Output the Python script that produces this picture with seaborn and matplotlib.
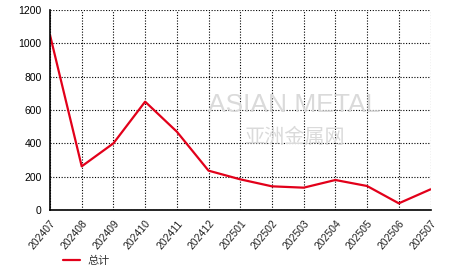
import matplotlib
matplotlib.use("Agg")
import matplotlib.pyplot as plt
import seaborn as sns
import pandas as pd

months = ["202407", "202408", "202409", "202410", "202411", "202412", "202501",
          "202502", "202503", "202504", "202505", "202506", "202507"]
values = [1050, 262, 400, 650, 470, 236, 184, 142, 134, 180, 144, 40, 124]
series_name = "总计"

sns.set_theme(style="white")
plt.rcParams['font.family'] = ['Liberation Sans', 'Noto Sans CJK SC', 'DejaVu Sans']

df = pd.DataFrame({"month": months, "value": values, "series": series_name})
df["idx"] = range(len(months))

fig = plt.figure(figsize=(4.66, 2.72), dpi=100)
ax = fig.add_axes([50 / 466, 1 - 210 / 272, (430.5 - 50) / 466, 200 / 272])

sns.lineplot(data=df, x="idx", y="value", hue="series", palette=["#e2001a"],
             linewidth=1.6, ax=ax, zorder=3)

# watermark (over the grid, under the line)
ax.text(294 / 466, 1 - 105 / 272, "ASIAN METAL", fontsize=19, color="#dadada",
        ha="center", va="center", zorder=2.5, transform=fig.transFigure)
ax.text(294 / 466, 1 - 137 / 272, "亚洲金属网", fontsize=14.5, color="#dadada",
        ha="center", va="center", zorder=2.5, transform=fig.transFigure,
        family=['Noto Sans CJK SC'])

ax.set_xlim(0, len(months) - 1)
ax.set_ylim(0, 1200)
ax.set_yticks(range(0, 1201, 200))
ax.set_xticks(range(len(months)))
ax.set_xticklabels(months, rotation=50, ha="right", rotation_mode="anchor",
                   fontsize=7.5, color="#222222")
ax.tick_params(axis="y", labelsize=7.5, labelcolor="black")
ax.tick_params(axis="both", direction="out", length=4, width=1, color="black", pad=2)
ax.set_xlabel("")
ax.set_ylabel("")
ax.patch.set_alpha(0)

ax.grid(True, linestyle=(0, (1, 1.5)), color="black", linewidth=0.8)
ax.set_axisbelow(True)
for s in ["top", "right"]:
    ax.spines[s].set_visible(False)
for s in ["left", "bottom"]:
    ax.spines[s].set_color("black")
    ax.spines[s].set_linewidth(1.2)
    ax.spines[s].set_zorder(4)

leg = ax.legend(loc="upper left", bbox_to_anchor=(57 / 466, 1 - 250 / 272),
                bbox_transform=fig.transFigure, frameon=False, fontsize=8,
                handlelength=1.6, borderpad=0, handletextpad=0.6)
for t in leg.get_texts():
    t.set_color("#333333")

fig.savefig("out.png", dpi=100)
